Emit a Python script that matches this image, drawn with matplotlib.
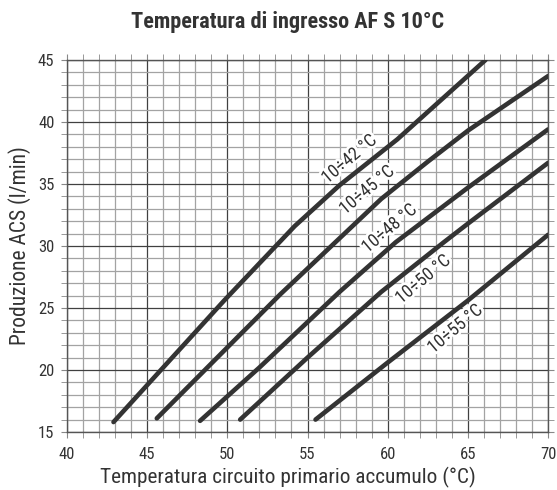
import matplotlib
matplotlib.use("Agg")
import matplotlib.pyplot as plt
from matplotlib import font_manager
from matplotlib.ticker import MultipleLocator
import matplotlib.patheffects as pe

# ---- data ----
labels = ["10÷42 °C", "10÷45 °C", "10÷48 °C", "10÷50 °C", "10÷55 °C"]
c1_x = [42.9, 49.8, 54.2, 57.0, 60.6, 66.1]
c1_y = [15.8, 25.6, 31.6, 34.9, 38.6, 45.0]
c2_x = [45.6, 49.6, 53.3, 56.9, 59.6, 62.5, 65.0, 70.0]
c2_y = [16.1, 21.3, 26.1, 30.5, 33.8, 36.8, 39.3, 43.7]
c3_x = [48.3, 52.0, 57.0, 60.5, 65.0, 70.0]
c3_y = [15.9, 20.2, 26.3, 30.3, 34.7, 39.4]
c4_x = [50.8, 55.0, 59.6, 63.5, 65.0, 70.0]
c4_y = [16.0, 21.0, 26.3, 30.3, 31.8, 36.7]
c5_x = [55.5, 60.0, 65.0, 70.0]
c5_y = [16.0, 20.6, 25.6, 30.9]
label_x = [57.6, 58.7, 60.1, 62.2, 64.2]
label_y = [37.0, 34.5, 31.4, 27.3, 23.3]
x_ticks = [40, 45, 50, 55, 60, 65, 70]
y_ticks = [15, 20, 25, 30, 35, 40, 45]

def pick(cands):
    for c in cands:
        try:
            font_manager.findfont(c, fallback_to_default=False)
            return c
        except Exception:
            pass
    return "DejaVu Sans"

fam = pick(["Liberation Sans Narrow", "DejaVu Sans Condensed", "Roboto Condensed", "Roboto"])
plt.rcParams['font.family'] = [fam, 'DejaVu Sans']

fig = plt.figure(figsize=(5.57, 4.90), dpi=100)
ax = fig.add_axes([67/557, 1-432/490, (548-67)/557, (432-60)/490])

ax.set_xlim(40, 70)
ax.set_ylim(15, 45)
ax.xaxis.set_minor_locator(MultipleLocator(1))
ax.yaxis.set_minor_locator(MultipleLocator(1))
ax.set_xticks(x_ticks)
ax.set_yticks(y_ticks)

ax.grid(which='minor', color='#a3a3a3', linewidth=0.9, zorder=1)
ax.grid(which='major', color='#404040', linewidth=0.9, zorder=1)
ax.set_axisbelow(True)
for s in ax.spines.values():
    s.set_color('#555555')
    s.set_linewidth(1.0)
ax.tick_params(which='both', direction='out', length=4, color='#888888',
               top=True, right=True, labelsize=12, labelcolor='#333333')
ax.tick_params(axis='x', pad=7)
ax.tick_params(axis='y', pad=5)

col = '#333333'
for xs, ys in [(c1_x, c1_y), (c2_x, c2_y), (c3_x, c3_y), (c4_x, c4_y), (c5_x, c5_y)]:
    ax.plot(xs, ys, color=col, linewidth=3.3, solid_capstyle='round',
            solid_joinstyle='round', zorder=3)

for t, lx, ly in zip(labels, label_x, label_y):
    ax.text(lx, ly, t, rotation=40, ha='center', va='center', fontsize=13,
            color='#333333', rotation_mode='anchor', zorder=4,
            path_effects=[pe.withStroke(linewidth=4, foreground='white')])

ax.set_xlabel("Temperatura circuito primario accumulo (°C)", fontsize=15.3,
              color='#333333')
ax.xaxis.set_label_coords((288-67)/481, (432-467)/372)
ax.set_ylabel("Produzione ACS (l/min)", fontsize=15.5, color='#333333', labelpad=5)
fig.text(288/557, 1-22/490, "Temperatura di ingresso AF S 10°C", ha='center',
         va='center', fontsize=16, fontweight='bold', color='#333333')

fig.savefig("out.png", dpi=100)
